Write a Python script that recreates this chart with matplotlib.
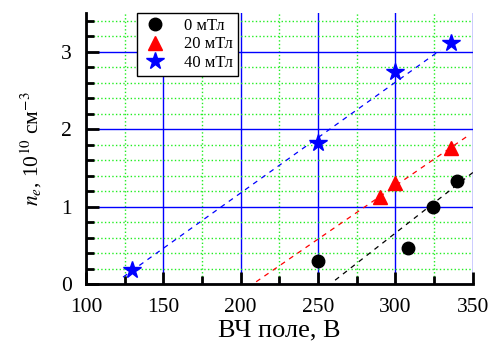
import matplotlib.pyplot as plt
from matplotlib.ticker import MultipleLocator

plt.rcParams['font.family'] = ['Liberation Serif', 'DejaVu Serif']
plt.rcParams['mathtext.fontset'] = 'stix'

# data
x_0 = [250, 308, 324, 340]
y_0 = [0.30, 0.46, 0.99, 1.33]
x_20 = [290, 300, 336]
y_20 = [1.12, 1.30, 1.76]
x_40 = [130, 250, 300, 336]
y_40 = [0.18, 1.82, 2.74, 3.11]

# dashed fit lines (end points)
fit_x_0 = [261, 350]
fit_y_0 = [0.05, 1.44]
fit_x_20 = [210, 348]
fit_y_20 = [0.03, 1.93]
fit_x_40 = [124, 329]
fit_y_40 = [0.09, 3.02]

labels = ['0 мТл', '20 мТл', '40 мТл']

fig = plt.figure(figsize=(4.91, 3.49), dpi=100)
ax = fig.add_axes([0.175, 0.186, 0.788, 0.777])

ax.plot(fit_x_0, fit_y_0, '--', color='black', lw=0.9, dashes=(4, 4))
ax.plot(fit_x_20, fit_y_20, '--', color='red', lw=0.9, dashes=(4, 4))
ax.plot(fit_x_40, fit_y_40, '--', color='blue', lw=0.9, dashes=(4, 4))

ax.plot(x_0, y_0, 'o', color='black', ms=9, label=labels[0], zorder=5)
ax.plot(x_20, y_20, '^', color='red', ms=10, label=labels[1], zorder=5)
ax.plot(x_40, y_40, '*', color='blue', ms=13, label=labels[2], zorder=5)

ax.set_xlim(100, 350)
ax.set_ylim(0, 3.5)
ax.xaxis.set_major_locator(MultipleLocator(50))
ax.xaxis.set_minor_locator(MultipleLocator(25))
ax.yaxis.set_major_locator(MultipleLocator(1))
ax.yaxis.set_minor_locator(MultipleLocator(0.2))

ax.grid(True, which='major', color='blue', lw=1.0, ls='-')
ax.grid(True, which='minor', color='#22ee22', lw=1.0, ls=':')
ax.set_axisbelow(True)

for s in ['top', 'right']:
    ax.spines[s].set_visible(False)
for s in ['left', 'bottom']:
    ax.spines[s].set_linewidth(2)

ax.tick_params(which='major', direction='in', length=9, width=2, labelsize=15.5, pad=10)
ax.tick_params(which='minor', direction='in', length=6, width=2)

ax.set_xlabel('ВЧ поле, В', fontsize=19, labelpad=2)
ax.set_ylabel(r'$n_e$, 10$^{10}$ см$^{-3}$', fontsize=15.5, labelpad=12)

leg = ax.legend(loc='upper left', bbox_to_anchor=(0.132, 1.0), borderaxespad=0,
                fontsize=12, frameon=True, fancybox=False, edgecolor='black',
                handlelength=1.6, handletextpad=0.9, borderpad=0.3, labelspacing=0.15)
leg.get_frame().set_linewidth(1)
leg.get_frame().set_alpha(1)

fig.savefig('out.png', dpi=100)
